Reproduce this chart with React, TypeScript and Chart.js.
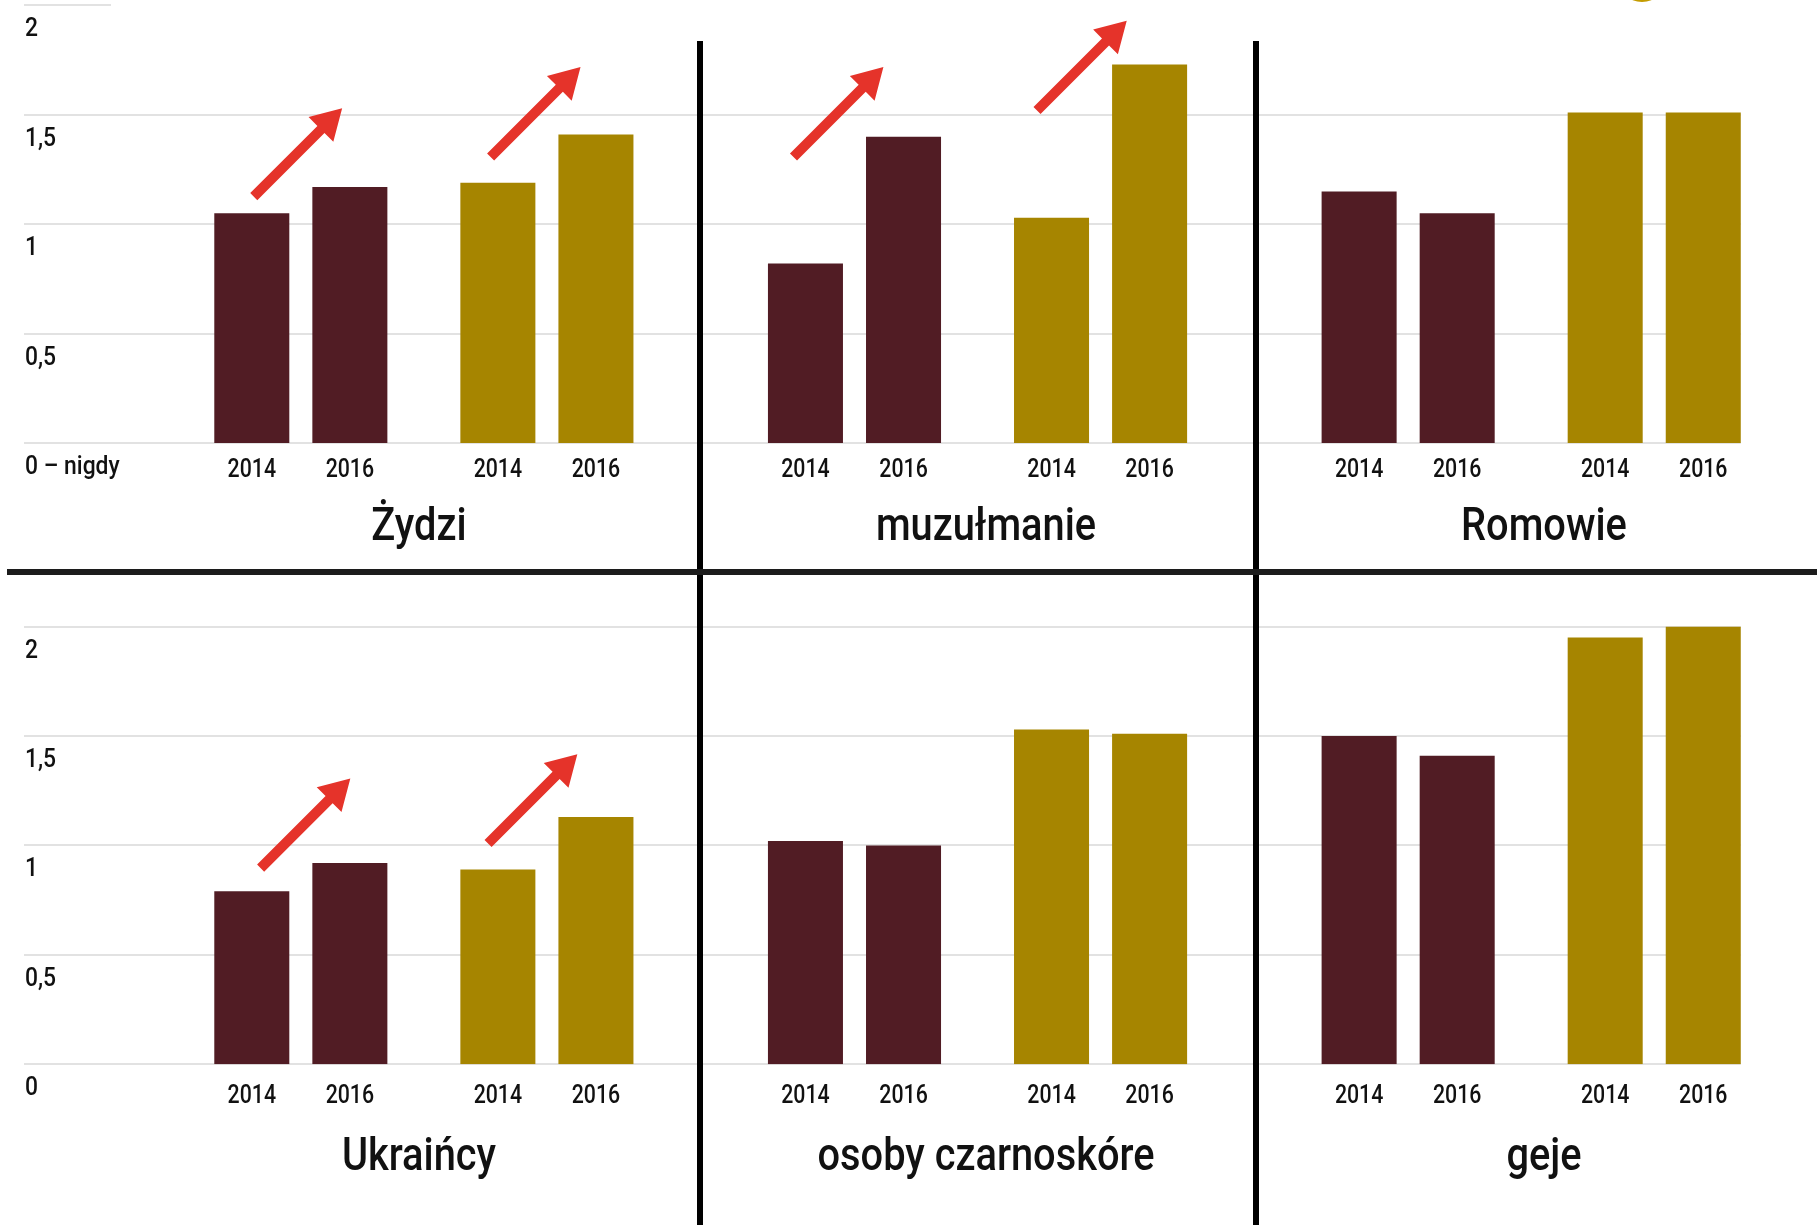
import React, { useEffect, useRef } from "react";
import { Chart, registerables } from "chart.js";

Chart.register(...registerables);

// ---------- data ----------
const YEARS = ["2014", "2016"];
const TOP_GROUPS = ["Żydzi", "muzułmanie", "Romowie"];
const BOTTOM_GROUPS = ["Ukraińcy", "osoby czarnoskóre", "geje"];

const TOP_MAROON_2014 = [1.05, 0.82, 1.15];
const TOP_MAROON_2016 = [1.17, 1.4, 1.05];
const TOP_GOLD_2014 = [1.19, 1.03, 1.51];
const TOP_GOLD_2016 = [1.41, 1.73, 1.51];

const BOTTOM_MAROON_2014 = [0.79, 1.02, 1.5];
const BOTTOM_MAROON_2016 = [0.92, 1.0, 1.41];
const BOTTOM_GOLD_2014 = [0.89, 1.53, 1.95];
const BOTTOM_GOLD_2016 = [1.13, 1.51, 2.0];

const TICK_VALUES = [0, 0.5, 1, 1.5, 2];
const TOP_TICK_LABELS = ["0 – nigdy", "0,5", "1", "1,5", "2"];
const BOTTOM_TICK_LABELS = ["0", "0,5", "1", "1,5", "2"];

// arrows: pair index (group*2 + series), start value, end value
const TOP_ARROW_PAIRS = [0, 1, 2, 3];
const TOP_ARROW_FROM = [1.126, 1.307, 1.307, 1.52];
const TOP_ARROW_TO = [1.53, 1.718, 1.718, 1.93];
const BOTTOM_ARROW_PAIRS = [0, 1];
const BOTTOM_ARROW_FROM = [0.896, 1.009];
const BOTTOM_ARROW_TO = [1.306, 1.417];

// ---------- layout / style ----------
const MAROON = "#511c24";
const GOLD = "#a68500";
const RED = "#e5332a";
const GRID = "#e2e2e2";
const SLOT_COUNT = 28;
const PAIR_SLOTS = [4, 8, 13, 17, 22, 26];
const TOP_ARROW_SHIFT = [0.02, -0.074, -0.122, -0.148];
const BOTTOM_ARROW_SHIFT = [0.09, -0.1];
const TITLE_X = [419, 986, 1544];
const FONT = 'Roboto, "Liberation Sans", "DejaVu Sans", sans-serif';

function buildRow(m14: number[], m16: number[], g14: number[], g16: number[]) {
  const d14: (number | null)[] = Array(SLOT_COUNT).fill(null);
  const d16: (number | null)[] = Array(SLOT_COUNT).fill(null);
  const colors: string[] = Array(SLOT_COUNT).fill(MAROON);
  for (let g = 0; g < 3; g++) {
    const ms = PAIR_SLOTS[2 * g];
    const gs = PAIR_SLOTS[2 * g + 1];
    d14[ms] = m14[g];
    d16[ms] = m16[g];
    d14[gs] = g14[g];
    d16[gs] = g16[g];
    colors[gs] = GOLD;
  }
  return { d14, d16, colors };
}

function drawText(
  ctx: CanvasRenderingContext2D,
  text: string,
  x: number,
  y: number,
  size: number,
  weight: number,
  align: CanvasTextAlign,
  sx: number
) {
  ctx.save();
  ctx.font = `${weight} ${size}px ${FONT}`;
  ctx.fillStyle = "#111";
  ctx.textBaseline = "alphabetic";
  ctx.textAlign = align;
  ctx.translate(x, y);
  ctx.scale(sx, 1);
  ctx.fillText(text, 0, 0);
  ctx.restore();
}

function drawArrow(ctx: CanvasRenderingContext2D, tx: number, ty: number, px: number, py: number) {
  const dx = px - tx;
  const dy = py - ty;
  const len = Math.hypot(dx, dy);
  const ux = dx / len;
  const uy = dy / len;
  const nx = -uy;
  const ny = ux;
  const headLen = 30;
  const headHalf = 17.5;
  const shaftHalf = 5;
  const bx = px - ux * headLen;
  const by = py - uy * headLen;
  ctx.save();
  ctx.fillStyle = RED;
  ctx.beginPath();
  ctx.moveTo(tx + nx * shaftHalf, ty + ny * shaftHalf);
  ctx.lineTo(bx + nx * shaftHalf, by + ny * shaftHalf);
  ctx.lineTo(bx + nx * headHalf, by + ny * headHalf);
  ctx.lineTo(px, py);
  ctx.lineTo(bx - nx * headHalf, by - ny * headHalf);
  ctx.lineTo(bx - nx * shaftHalf, by - ny * shaftHalf);
  ctx.lineTo(tx - nx * shaftHalf, ty - ny * shaftHalf);
  ctx.closePath();
  ctx.fill();
  ctx.restore();
}

type RowCfg = {
  groups: string[];
  m14: number[];
  m16: number[];
  g14: number[];
  g16: number[];
  tickLabels: string[];
  arrowPairs: number[];
  arrowFrom: number[];
  arrowTo: number[];
  arrowShift: number[];
  shortTop: boolean;
  yearOffset: number;
  titleOffset: number;
  height: number;
  padTop: number;
  padBottom: number;
};

function RowChart({ cfg, top }: { cfg: RowCfg; top: number }) {
  const ref = useRef<HTMLCanvasElement | null>(null);
  useEffect(() => {
    if (!ref.current) return;
    const { d14, d16, colors } = buildRow(cfg.m14, cfg.m16, cfg.g14, cfg.g16);
    const overlay = {
      id: "overlay",
      beforeDatasetsDraw(chart: any) {
        const ctx = chart.ctx as CanvasRenderingContext2D;
        const ys = chart.scales.y;
        const area = chart.chartArea;
        const meta1 = chart.getDatasetMeta(1);
        const last = meta1.data[PAIR_SLOTS[PAIR_SLOTS.length - 1]];
        const right = last.x + last.width / 2;
        ctx.save();
        ctx.strokeStyle = GRID;
        ctx.lineWidth = 2;
        TICK_VALUES.forEach((v) => {
          const y = Math.round(ys.getPixelForValue(v));
          const x1 = cfg.shortTop && v === 2 ? area.left + 87 : right;
          ctx.beginPath();
          ctx.moveTo(area.left, y);
          ctx.lineTo(x1, y);
          ctx.stroke();
        });
        ctx.restore();
      },
      afterDatasetsDraw(chart: any) {
        const ctx = chart.ctx as CanvasRenderingContext2D;
        const ys = chart.scales.y;
        const area = chart.chartArea;
        const zeroY = ys.getPixelForValue(0);
        // y tick labels
        TICK_VALUES.forEach((v, i) => {
          const y = ys.getPixelForValue(v);
          drawText(ctx, cfg.tickLabels[i], area.left + 1, y + 31, 26, 500, "left", 0.88);
        });
        // year labels
        for (let ds = 0; ds < 2; ds++) {
          const meta = chart.getDatasetMeta(ds);
          PAIR_SLOTS.forEach((s) => {
            const bar = meta.data[s];
            drawText(ctx, YEARS[ds], bar.x, zeroY + cfg.yearOffset, 26, 500, "center", 0.82);
          });
        }
        // titles
        cfg.groups.forEach((g, i) => {
          drawText(ctx, g, TITLE_X[i], zeroY + cfg.titleOffset, 46, 500, "center", 0.865);
        });
        // arrows
        const m0 = chart.getDatasetMeta(0);
        const m1 = chart.getDatasetMeta(1);
        cfg.arrowPairs.forEach((p, i) => {
          const s = PAIR_SLOTS[p];
          const b0 = m0.data[s];
          const b1 = m1.data[s];
          const pitch = b1.x - b0.x;
          const tx = b0.x + cfg.arrowShift[i] * pitch;
          const ty = ys.getPixelForValue(cfg.arrowFrom[i]);
          const py = ys.getPixelForValue(cfg.arrowTo[i]);
          const px = tx + (ty - py);
          drawArrow(ctx, tx, ty, px, py);
        });
      },
    };
    const chart = new Chart(ref.current, {
      type: "bar",
      data: {
        labels: Array(SLOT_COUNT).fill(""),
        datasets: [
          { label: YEARS[0], data: d14, backgroundColor: colors, borderWidth: 0 },
          { label: YEARS[1], data: d16, backgroundColor: colors, borderWidth: 0 },
        ],
      },
      options: {
        responsive: false,
        animation: false,
        devicePixelRatio: 1,
        categoryPercentage: 196 / 61.476,
        barPercentage: 0.765,
        layout: {
          padding: { left: 24, right: 70.5, top: cfg.padTop, bottom: cfg.padBottom },
        },
        scales: {
          x: { display: false, offset: true, grid: { display: false } },
          y: { display: false, min: 0, max: 2, grid: { display: false } },
        },
        plugins: {
          legend: { display: false },
          tooltip: { enabled: false },
        },
      } as any,
      plugins: [overlay],
    });
    return () => chart.destroy();
  }, [cfg]);
  return (
    <canvas
      ref={ref}
      width={1817}
      height={cfg.height}
      style={{ position: "absolute", left: 0, top, width: 1817, height: cfg.height }}
    />
  );
}

const TOP_CFG: RowCfg = {
  groups: TOP_GROUPS,
  m14: TOP_MAROON_2014,
  m16: TOP_MAROON_2016,
  g14: TOP_GOLD_2014,
  g16: TOP_GOLD_2016,
  tickLabels: TOP_TICK_LABELS,
  arrowPairs: TOP_ARROW_PAIRS,
  arrowFrom: TOP_ARROW_FROM,
  arrowTo: TOP_ARROW_TO,
  arrowShift: TOP_ARROW_SHIFT,
  shortTop: true,
  yearOffset: 34,
  titleOffset: 97,
  height: 560,
  padTop: 5.4,
  padBottom: 117,
};

const BOTTOM_CFG: RowCfg = {
  groups: BOTTOM_GROUPS,
  m14: BOTTOM_MAROON_2014,
  m16: BOTTOM_MAROON_2016,
  g14: BOTTOM_GOLD_2014,
  g16: BOTTOM_GOLD_2016,
  tickLabels: BOTTOM_TICK_LABELS,
  arrowPairs: BOTTOM_ARROW_PAIRS,
  arrowFrom: BOTTOM_ARROW_FROM,
  arrowTo: BOTTOM_ARROW_TO,
  arrowShift: BOTTOM_ARROW_SHIFT,
  shortTop: false,
  yearOffset: 38.5,
  titleOffset: 106,
  height: 645,
  padTop: 46.6,
  padBottom: 160.8,
};

export default function App() {
  return (
    <div
      style={{
        position: "fixed",
        left: 0,
        top: 0,
        width: 1817,
        height: 1225,
        background: "#fff",
        overflow: "hidden",
      }}
    >
      <RowChart cfg={TOP_CFG} top={0} />
      <RowChart cfg={BOTTOM_CFG} top={580} />
      <div style={{ position: "absolute", left: 697, top: 41, width: 6, height: 1184, background: "#000" }} />
      <div style={{ position: "absolute", left: 1253, top: 41, width: 6, height: 1184, background: "#000" }} />
      <div style={{ position: "absolute", left: 7, top: 569, width: 1810, height: 6, background: "#1c1c1c" }} />
      <div
        style={{
          position: "absolute",
          left: 1618,
          top: -46,
          width: 48,
          height: 48,
          borderRadius: "50%",
          background: "#c49c00",
        }}
      />
    </div>
  );
}
